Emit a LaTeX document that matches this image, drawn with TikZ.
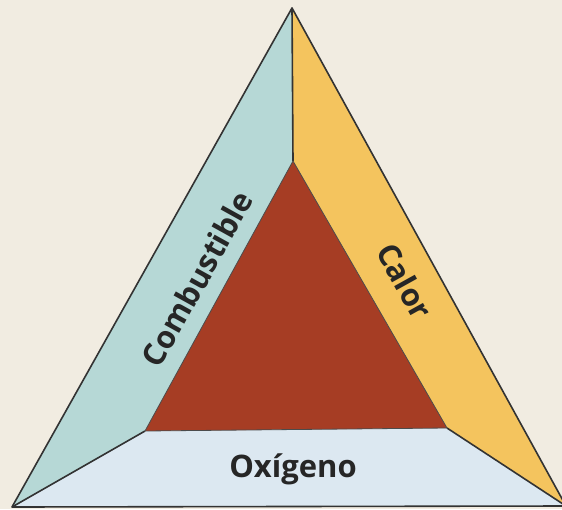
\documentclass[tikz,border=0pt]{standalone}
\usepackage{fontspec}
\setmainfont{Open Sans}
\begin{document}
\begin{tikzpicture}[x=1pt,y=-1pt,
  edge/.style={draw=black!80,line width=1.6pt,line join=round},
  lbl/.style={font=\bfseries\fontsize{31}{31}\selectfont,text=black!85,inner sep=0pt}]
\definecolor{bgc}{HTML}{F1ECE1}
\definecolor{fuel}{HTML}{B6D8D6}
\definecolor{heat}{HTML}{F4C45E}
\definecolor{core}{HTML}{A63D24}
\definecolor{oxy}{HTML}{DCE8F1}
\fill[bgc] (0,0) rectangle (562,509);
\useasboundingbox (0,0) rectangle (562,509);
\coordinate (A) at (292,8);
\coordinate (L) at (12,507);
\coordinate (R) at (566,506);
\coordinate (T) at (293,161);
\coordinate (IL) at (145,431);
\coordinate (IR) at (447,428);
\fill[fuel] (A) -- (T) -- (IL) -- (L) -- cycle;
\fill[heat] (A) -- (R) -- (IR) -- (T) -- cycle;
\fill[oxy] (L) -- (IL) -- (IR) -- (R) -- cycle;
\fill[core] (T) -- (IL) -- (IR) -- cycle;
\draw[edge] (A) -- (L) -- (R) -- cycle;
\draw[edge] (A) -- (T);
\draw[edge] (IL) -- (L);
\draw[edge] (IR) -- (R);
\draw[line width=0.8pt,black!70] (T) -- (IL) -- (IR) -- cycle;
\node[lbl,rotate=61] (comb) at (197,279) {Combustible};
\node[lbl,rotate=-61] (cal) at (405,281) {Calor};
\node[lbl] (oxi) at (293,469) {Oxígeno};
\end{tikzpicture}
\end{document}
